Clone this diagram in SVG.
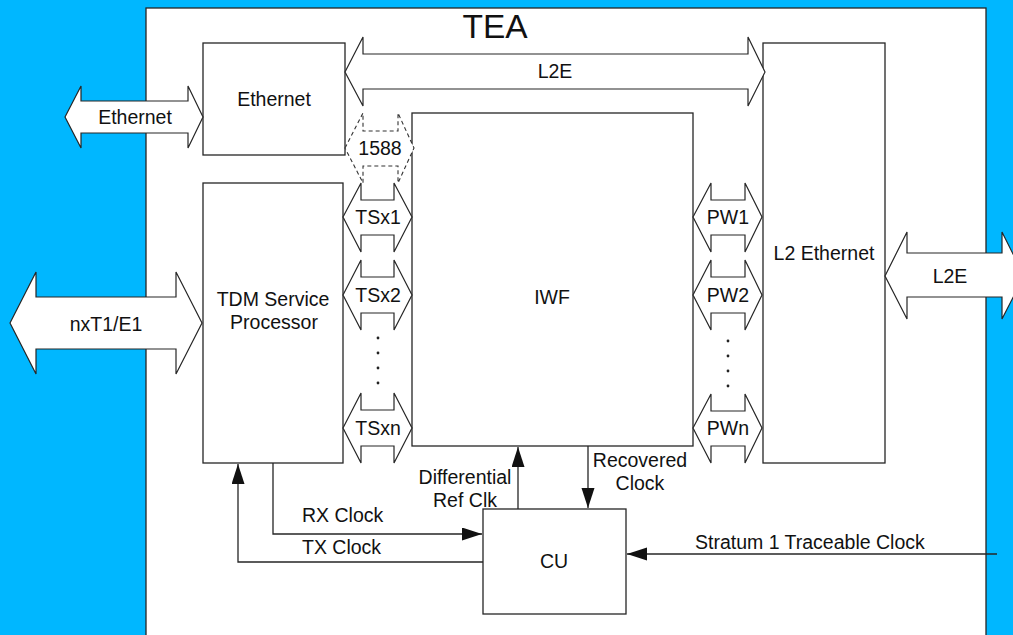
<svg xmlns="http://www.w3.org/2000/svg" width="1013" height="635" viewBox="0 0 1013 635">
<defs>
<style>
.bx{fill:#fff;stroke:#262626;stroke-width:1.3}
.ar{fill:#fff;stroke:#262626;stroke-width:1.2;stroke-linejoin:miter}
.dash{fill:#fff;stroke:#333;stroke-width:1.1;stroke-dasharray:4 3}
.ln{fill:none;stroke:#262626;stroke-width:1.3}
text{font-family:"Liberation Sans",Arial,sans-serif;font-size:19.5px;fill:#111}
.c{text-anchor:middle}
.dot{fill:#222}
</style>
<marker id="ah" markerUnits="userSpaceOnUse" markerWidth="21" markerHeight="14" refX="20" refY="6.5" orient="auto">
<path d="M0,0 L20,6.5 L0,13 z" fill="#111"/>
</marker>
</defs>
<rect x="0" y="0" width="1013" height="635" fill="#00B7FF"/>
<g id="tea">
<rect x="146" y="8" width="840" height="640" class="bx"/>
<text x="495" y="38" class="c" style="font-size:33.5px">TEA</text>
</g>
<g id="ethernet-box">
<rect x="203" y="43" width="142" height="112" class="bx"/>
<text x="274" y="106" class="c">Ethernet</text>
</g>
<g id="tdm">
<rect x="203" y="183" width="140" height="280" class="bx"/>
<text x="273" y="306" class="c">TDM Service</text>
<text x="274" y="329" class="c">Processor</text>
</g>
<g id="iwf">
<rect x="412" y="113" width="281" height="333" class="bx"/>
<text x="552" y="304" class="c">IWF</text>
</g>
<g id="l2eth">
<rect x="763" y="43" width="122" height="420" class="bx"/>
<text x="824" y="260" class="c">L2 Ethernet</text>
</g>
<g id="cu">
<rect x="483" y="509" width="143" height="105" class="bx"/>
<text x="554" y="568" class="c">CU</text>
</g>
<g id="arrow-ethernet-ext">
<polygon class="ar" points="65,117 81,86 81,101 188,101 188,86 203,117 188,148 188,133 81,133 81,148"/>
<text x="135" y="124" class="c">Ethernet</text>
</g>
<g id="arrow-nxt1">
<polygon class="ar" points="10,323 36,272 36,297 176,297 176,272 202,323 176,374 176,349 36,349 36,374"/>
<text x="106" y="331" class="c">nxT1/E1</text>
</g>
<g id="arrow-l2e-top">
<polygon class="ar" points="345,72 363,37 363,54 748,54 748,37 765,72 748,106 748,89 363,89 363,106"/>
<text x="555" y="78" class="c">L2E</text>
</g>
<g id="arrow-l2e-right">
<polygon class="ar" points="885,276 907,232 907,253 1002,253 1002,232 1024,276 1002,319 1002,297 907,297 907,319"/>
<text x="950" y="283" class="c">L2E</text>
</g>
<g id="arrow-1588">
<polygon class="dash" points="345,148 363,113 363,131 398,131 398,113 414,148 398,183 398,166 363,166 363,183"/>
<text x="380" y="155" class="c">1588</text>
</g>
<g id="arrow-tsx1">
<polygon class="ar" points="343,217 361,183 361,200 394,200 394,183 412,217 394,252 394,235 361,235 361,252"/>
<text x="378" y="224" class="c">TSx1</text>
</g>
<g id="arrow-tsx2">
<polygon class="ar" points="343,295 361,260 361,277 394,277 394,260 412,295 394,330 394,313 361,313 361,330"/>
<text x="378" y="302" class="c">TSx2</text>
</g>
<g id="tsx-dots">
<circle class="dot" cx="378" cy="338" r="1.4"/>
<circle class="dot" cx="378" cy="353" r="1.4"/>
<circle class="dot" cx="378" cy="368" r="1.4"/>
<circle class="dot" cx="378" cy="383" r="1.4"/>
</g>
<g id="arrow-tsxn">
<polygon class="ar" points="343,428 361,393 361,410 394,410 394,393 412,428 394,463 394,446 361,446 361,463"/>
<text x="378" y="435" class="c">TSxn</text>
</g>
<g id="arrow-pw1">
<polygon class="ar" points="693,217 711,183 711,200 745,200 745,183 762,217 745,252 745,235 711,235 711,252"/>
<text x="728" y="224" class="c">PW1</text>
</g>
<g id="arrow-pw2">
<polygon class="ar" points="693,295 711,260 711,277 745,277 745,260 762,295 745,330 745,313 711,313 711,330"/>
<text x="728" y="302" class="c">PW2</text>
</g>
<g id="pw-dots">
<circle class="dot" cx="728" cy="341" r="1.4"/>
<circle class="dot" cx="728" cy="356" r="1.4"/>
<circle class="dot" cx="728" cy="371" r="1.4"/>
<circle class="dot" cx="728" cy="386" r="1.4"/>
</g>
<g id="arrow-pwn">
<polygon class="ar" points="693,428 711,394 711,411 745,411 745,394 762,428 745,463 745,446 711,446 711,463"/>
<text x="728" y="435" class="c">PWn</text>
</g>
<g id="connectors">
<path class="ln" d="M273,463 V534 H482" marker-end="url(#ah)"/>
<path class="ln" d="M483,562 H238 V464" marker-end="url(#ah)"/>
<path class="ln" d="M518,509 V447" marker-end="url(#ah)"/>
<path class="ln" d="M588,446 V508" marker-end="url(#ah)"/>
<path class="ln" d="M997,554 H627" marker-end="url(#ah)"/>
<text x="302" y="522">RX Clock</text>
<text x="302" y="554">TX Clock</text>
<text x="465" y="484" class="c">Differential</text>
<text x="465" y="507" class="c">Ref Clk</text>
<text x="640" y="467" class="c">Recovered</text>
<text x="640" y="490" class="c">Clock</text>
<text x="695" y="549">Stratum 1 Traceable Clock</text>
</g>
</svg>
